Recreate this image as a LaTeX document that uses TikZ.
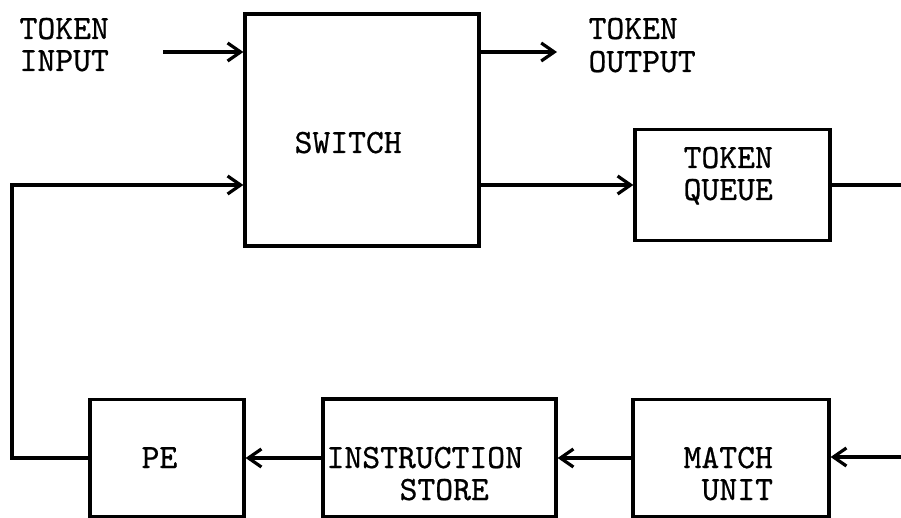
\documentclass[tikz,border=0pt]{standalone}
\usepackage{fontspec}
\setmonofont{lmmono10-regular.otf}[BoldFont=lmmono10-regular.otf, BoldFeatures={FakeBold=0.7}]
\usetikzlibrary{arrows.meta}
\begin{document}
\begin{tikzpicture}[x=1pt,y=-1pt,
  line width=3.2pt,
  box/.style={draw, rectangle, inner sep=0pt},
  lbl/.style={anchor=base west, inner sep=0pt, font=\ttfamily\bfseries\fontsize{34}{34}\selectfont},
  arr/.style={-{Straight Barb[length=13pt,width=18pt]}}]
\useasboundingbox (0,0) rectangle (901,518);
% boxes
\node[box, minimum width=234pt, minimum height=232pt] (sw) at (362,130) {};
\node[box, minimum width=195pt, minimum height=111pt] (tq) at (732.5,185) {};
\node[box, minimum width=154pt, minimum height=117pt] (pe) at (167,458) {};
\node[box, minimum width=233pt, minimum height=118pt] (is) at (439.5,458) {};
\node[box, minimum width=196pt, minimum height=117pt] (mu) at (731,458) {};
% labels
\node[lbl] (ti1) at (18,39) {TOKEN};
\node[lbl] (ti2) at (18,71) {INPUT};
\node[lbl] (to1) at (587,39) {TOKEN};
\node[lbl] (to2) at (587,72) {OUTPUT};
\node[lbl] (swl) at (293,153) {SWITCH};
\node[lbl] (tq1) at (682,168) {TOKEN};
\node[lbl] (tq2) at (682,200) {QUEUE};
\node[lbl] (pel) at (140,468) {PE};
\node[lbl] (is1) at (325,468) {INSTRUCTION};
\node[lbl] (is2) at (398,500) {STORE};
\node[lbl] (mu1) at (682,468) {MATCH};
\node[lbl] (mu2) at (700,500) {UNIT};
% coordinates
\coordinate (tin) at (163,52);
\coordinate (tout) at (557,52);
\coordinate (fb) at (12,185);
\coordinate (qout) at (901,185);
\coordinate (min) at (901,457);
% connectors
\draw[arr] (tin) -- (sw.west |- tin);
\draw[arr] (sw.east |- tout) -- (tout);
\draw[arr] (pe.west) -| (fb) -- (sw.west |- fb);
\draw[arr] (sw.east |- tq.west) -- (tq.west);
\draw (tq.east) -- (qout);
\draw[arr] (min) -- (mu.east |- min);
\draw[arr] (mu.west) -- (is.east |- mu.west);
\draw[arr] (is.west |- pe.east) -- (pe.east);
\end{tikzpicture}
\end{document}
